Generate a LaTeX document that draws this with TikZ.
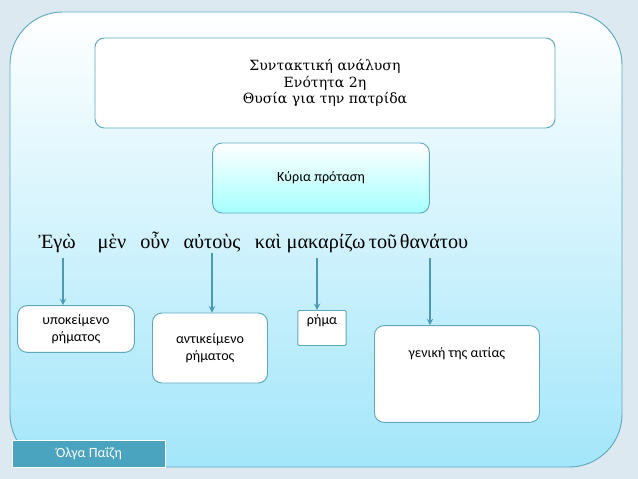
\documentclass[tikz,border=0pt]{standalone}
\usepackage{fontspec}
\setmainfont{DejaVu Serif}
\newfontfamily\cali{Carlito}
\newfontfamily\polyt{Liberation Serif}
\usetikzlibrary{positioning}
\definecolor{pagebg}{HTML}{DCE9F0}
\definecolor{edge}{HTML}{5FA9C0}
\definecolor{arrcol}{HTML}{4A9AB5}
\definecolor{panelbot}{HTML}{A3E6FA}
\definecolor{foot}{HTML}{4AA3BF}
\begin{document}
\begin{tikzpicture}[
        x=0.03cm, y=-0.03cm,
        box/.style={draw=edge, thick, rounded corners=8pt, fill=white, align=center, font=\cali\large},
        word/.style={font=\polyt\LARGE, inner sep=1pt, anchor=base},
        arr/.style={->, line width=1.4pt, draw=arrcol, >=stealth}
    ]
        % background and panel
        \fill[pagebg] (0,0) rectangle (638,479);
        \shade[top color=white, bottom color=panelbot, draw=edge, thick, rounded corners=45pt]
            (10,12) rectangle (622,467);

        % header
        \node[box, minimum width=13.8cm, minimum height=2.7cm, font=\large, inner sep=0pt] (title) at (325,83)
            {Συντακτική ανάλυση\\Ενότητα 2η\\Θυσία για την πατρίδα};
        \node[box, top color=white, bottom color=cyan!35, minimum width=6.5cm, minimum height=2.1cm] (main) at (321,178) {Κύρια πρόταση};

        % sentence
        \node[word] (w1) at (57,248) {Ἐγὼ};
        \node[word] (w2) at (112,248) {μὲν};
        \node[word] (w3) at (155,248) {οὖν};
        \node[word] (w4) at (212,248) {αὐτοὺς};
        \node[word] (w5) at (268,248) {καὶ};
        \node[word] (w6) at (326,248) {μακαρίζω};
        \node[word] (w7) at (383,248) {τοῦ};
        \node[word] (w8) at (434,248) {θανάτου};

        % parts
        \node[box, minimum width=3.5cm, minimum height=1.4cm] (subj) at (76,329) {υποκείμενο\\ρήματος};
        \node[box, minimum width=3.45cm, minimum height=2.1cm] (obj) at (210,348) {αντικείμενο\\ρήματος};
        \node[box, rounded corners=1pt, minimum width=1.45cm, minimum height=1.05cm, anchor=north] (verb) at (322,310) {};
        \node[font=\cali\large, anchor=north] at (verb.north) {ρήμα};
        \node[box, minimum width=4.95cm, minimum height=2.9cm] (gen) at (457,374) {γενική της αιτίας\\[4ex]};

        \draw[arr] (63,258) -- (63,0 |- subj.north);
        \draw[arr] (w4.south) -- (w4.south |- obj.north);
        \draw[arr] (317,258) -- (317,0 |- verb.north);
        \draw[arr] (430,258) -- (430,0 |- gen.north);

        % footer
        \node[draw=white, thick, fill=foot, text=white, font=\cali\large, minimum width=4.6cm, minimum height=0.8cm] (author) at (89,454) {Όλγα Παΐζη};
\end{tikzpicture}
\end{document}
